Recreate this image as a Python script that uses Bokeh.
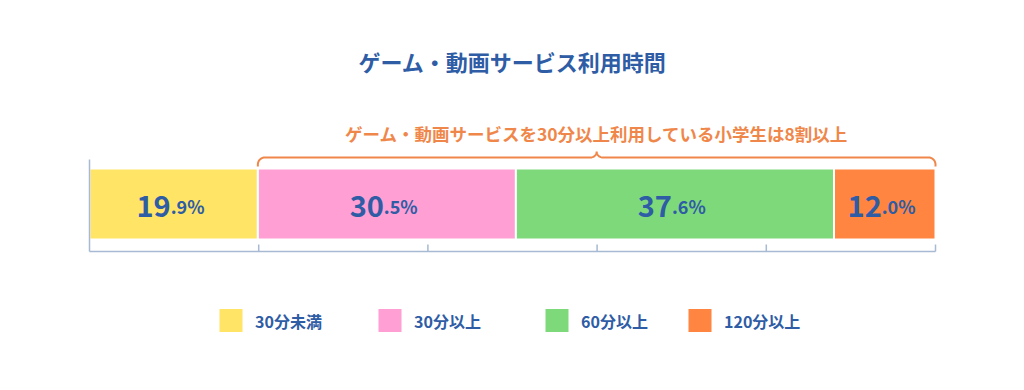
import numpy as np
from bokeh.plotting import figure
from bokeh.models import Range1d, ColumnDataSource
from bokeh.core.properties import value
from bokeh.embed import file_html
from bokeh.resources import INLINE

# ---- data ----
title_text = "ゲーム・動画サービス利用時間"
note_text = "ゲーム・動画サービスを30分以上利用している小学生は8割以上"
categories = ["30分未満", "30分以上", "60分以上", "120分以上"]
shares = [19.9, 30.5, 37.6, 12.0]
colors = ["#FFE466", "#FF9FD3", "#7ED97B", "#FF8540"]
ticks = [20, 40, 60, 80, 100]

# ---- layout (figure pixels) ----
W, H = 1008, 374
X0_PX, X1_PX = 89, 935          # pixel positions of 0% and 100%
PXU = (X1_PX - X0_PX) / 100.0    # pixels per percent
BAR_TOP, BAR_BOT = 168, 239
AXIS_Y, TICK_LEN = 251, 7
BR_Y = 157                       # bracket line
LEG_Y = 320
LEG_PX = [230.5, 389.5, 556.5, 699.5]   # legend square centers (px)
BLUE = "#2E5CA5"
ORANGE = "#F0874A"
AXIS_C = "#A8B9D3"
FONT = value("Noto Sans CJK JP")

def px2x(px):
    return (np.asarray(px, dtype=float) - X0_PX) / PXU

p = figure(width=W, height=H, output_backend="svg", toolbar_location=None,
           x_range=Range1d(px2x(0), px2x(W)), y_range=Range1d(H, 0),
           x_axis_location=None, y_axis_location=None, min_border=0)
p.outline_line_color = None
p.xgrid.visible = False
p.ygrid.visible = False
p.background_fill_color = "white"
p.border_fill_color = "white"

# ---- bars ----
vals = np.array(shares)
ends = np.cumsum(vals)
starts = ends - vals
src = ColumnDataSource(dict(left=starts, right=ends, color=colors,
                            mid=(starts + ends) / 2,
                            ipart=[f"{int(v)}" for v in shares],
                            dpart=[f".{int(round(v * 10)) % 10}%" for v in shares]))
p.quad(left="left", right="right", top=BAR_TOP, bottom=BAR_BOT, fill_color="color",
       line_color="white", line_width=2, source=src)

# value labels: big integer part + small decimal part
LBL_Y = 205
p.text(x="mid", y=LBL_Y, text="ipart", source=src, x_offset=-3, text_align="right",
       text_baseline="alphabetic", text_font=FONT, text_font_style="bold",
       text_font_size="29px", text_color=BLUE)
p.text(x="mid", y=LBL_Y, text="dpart", source=src, x_offset=-3, text_align="left",
       text_baseline="alphabetic", text_font=FONT, text_font_style="bold",
       text_font_size="18px", text_color=BLUE)

# ---- axis ----
p.segment(x0=[0], y0=[AXIS_Y], x1=[100], y1=[AXIS_Y], line_color=AXIS_C, line_width=1.5)
p.segment(x0=[0], y0=[BR_Y + 2], x1=[0], y1=[AXIS_Y], line_color=AXIS_C, line_width=1.5)
p.segment(x0=ticks, y0=[AXIS_Y - TICK_LEN] * len(ticks), x1=ticks, y1=[AXIS_Y] * len(ticks),
          line_color=AXIS_C, line_width=1.5)

# ---- bracket over bars 2..4 ----
xl = X0_PX + starts[1] * PXU
xr = X0_PX + ends[-1] * PXU
xm = (xl + xr) / 2
r, r2 = 7, 6
bx, by = [xl], [BAR_TOP - 2]
t = np.linspace(np.pi, 1.5 * np.pi, 12)
bx += list(xl + r + r * np.cos(t)); by += list(BR_Y + r + r * np.sin(t))
t = np.linspace(0.5 * np.pi, 0, 10)
bx += list(xm - r2 + r2 * np.cos(t)); by += list(BR_Y - r2 + r2 * np.sin(t))
t = np.linspace(np.pi, 0.5 * np.pi, 10)
bx += list(xm + r2 + r2 * np.cos(t)); by += list(BR_Y - r2 + r2 * np.sin(t))
t = np.linspace(1.5 * np.pi, 2 * np.pi, 12)
bx += list(xr - r + r * np.cos(t)); by += list(BR_Y + r + r * np.sin(t))
bx.append(xr); by.append(BAR_TOP - 2)
p.line(x=px2x(bx), y=by, line_color=ORANGE, line_width=2)

p.text(x=[px2x(xm)], y=[133], text=[note_text], text_align="center", text_baseline="middle",
       text_font=FONT, text_font_style="bold", text_font_size="17.5px", text_color=ORANGE)

# ---- title ----
p.text(x=[50], y=[60], text=[title_text], text_align="center", text_baseline="middle",
       text_font=FONT, text_font_style="bold", text_font_size="22px", text_color=BLUE)

# ---- legend ----
lx = px2x(LEG_PX)
p.rect(x=lx, y=[LEG_Y] * 4, width=23, height=23, width_units="screen",
       height_units="screen", fill_color=colors, line_color=None)
p.text(x=lx, y=[LEG_Y] * 4, text=categories, x_offset=24, text_align="left",
       text_baseline="middle", text_font=FONT, text_font_style="bold",
       text_font_size="16px", text_color=BLUE)

open("out.html", "w").write(file_html(p, INLINE))
